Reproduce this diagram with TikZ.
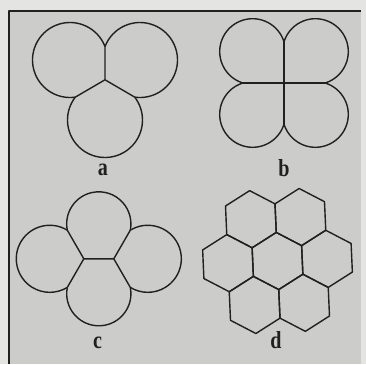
\documentclass[tikz,border=0pt]{standalone}
\usepackage{fontspec}
\setmainfont{Liberation Serif}
\definecolor{ink}{RGB}{32,32,32}
\definecolor{paper}{RGB}{204,204,202}
\definecolor{margin}{RGB}{228,228,226}
\begin{document}
\begin{tikzpicture}[x=1pt,y=-1pt,line join=round,
  outline/.style={draw=ink,line width=1.4pt},
  lab/.style={font=\fontsize{24.5}{24.5}\selectfont\bfseries,text=ink,anchor=base,inner sep=0pt}]
\fill[margin] (0,0) rectangle (366,364);
\useasboundingbox (0,0) rectangle (366,364);
\fill[paper] (9,11) rectangle (361,364);
\draw[ink,line width=2pt] (9,364) -- (9,11) -- (361,11);

% ---------- figure a : three bubbles ----------
\coordinate (aLR) at (105,46.54);
\coordinate (aLB) at (75.28,97.13);
\coordinate (aRB) at (134.72,97.13);
\coordinate (aJ) at (105,79.79);
\draw[outline] (aLR) arc[start angle=-21.04,end angle=-278.1,radius=37.5];
\draw[outline] (aLR) arc[start angle=201.04,end angle=458.1,radius=37.5];
\draw[outline] (aLB) arc[start angle=217.58,end angle=-37.58,radius=37.5];
\draw[outline] (aJ) -- (aLR) (aJ) -- (aLB) (aJ) -- (aRB);
\node[lab] (la) at (103,175.5) {\scalebox{0.82}[1]{a}};

% ---------- figure b : four lobes ----------
\coordinate (bT) at (284,41.8);
\coordinate (bW) at (242.8,83);
\coordinate (bE) at (325.2,83);
\coordinate (bS) at (284,124.2);
\draw[outline] (bT) arc[start angle=-17.33,end angle=-252.67,radius=32.9];
\draw[outline] (bT) arc[start angle=197.33,end angle=432.67,radius=32.9];
\draw[outline] (bE) arc[start angle=-72.67,end angle=162.67,radius=32.9];
\draw[outline] (bS) arc[start angle=17.33,end angle=252.67,radius=32.9];
\draw[outline] (bT) -- (bS) (bW) -- (bE);
\node[lab] (lb) at (284,176) {\scalebox{0.82}[1]{b}};

% ---------- figure c : four bubbles with a central wall ----------
\coordinate (cJ1) at (83.8,258.8);
\coordinate (cJ2) at (113.8,258.8);
\coordinate (cTL) at (67.3,230.2);
\coordinate (cBL) at (67.3,287.4);
\coordinate (cTR) at (130.3,230.2);
\coordinate (cBR) at (130.3,287.4);
\draw[outline] (cTL) arc[start angle=168.72,end angle=371.28,radius=32.12];
\draw[outline] (cBR) arc[start angle=-11.28,end angle=191.28,radius=32.12];
\draw[outline] (cTL) arc[start angle=-58.53,end angle=-301.47,radius=33.53];
\draw[outline] (cTR) arc[start angle=238.53,end angle=481.47,radius=33.53];
\draw[outline] (cJ1) -- (cJ2) (cJ1) -- (cTL) (cJ1) -- (cBL) (cJ2) -- (cTR) (cJ2) -- (cBR);
\node[lab] (lc) at (97.5,348) {\scalebox{0.82}[1]{c}};

% ---------- figure d : seven hexagons ----------
\begin{scope}[shift={(277.5,261)},rotate=2.5]
\foreach \hx/\hy in {-24.77/-42.9, 24.77/-42.9, -49.54/0, 0/0, 49.54/0, -24.77/42.9, 24.77/42.9}
  \draw[outline] (\hx,\hy) +(30:28.6) -- +(90:28.6) -- +(150:28.6) -- +(210:28.6) -- +(270:28.6) -- +(330:28.6) -- cycle;
\end{scope}
\node[lab] (ld) at (276,348) {\scalebox{0.82}[1]{d}};
\end{tikzpicture}
\end{document}
